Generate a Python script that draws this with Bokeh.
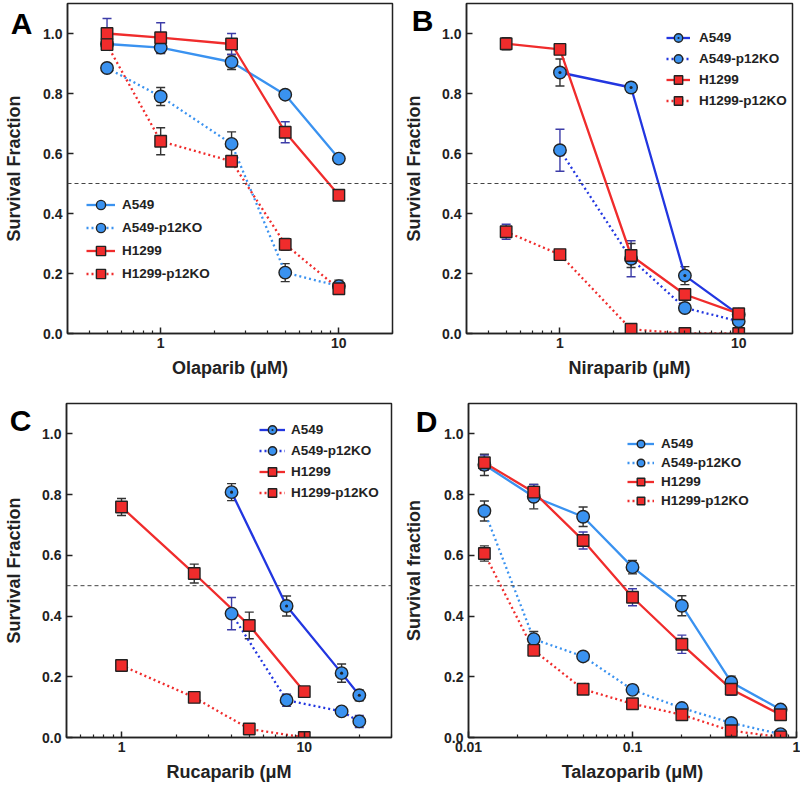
from bokeh.plotting import figure
from bokeh.layouts import column, row
from bokeh.models import (ColumnDataSource, Whisker, TeeHead, Span, Legend, LegendItem,
                          FixedTicker, CustomJSTickFormatter, Range1d, LinearAxis)
from bokeh.embed import file_html
from bokeh.resources import INLINE

# ---------------- data ----------------
# Panel A - Olaparib
A_dose = [0.5, 1, 2.5, 5, 10]
A_A549 = [0.965, 0.953, 0.905, 0.796, 0.583]
A_A549_err = [0.01, 0.02, 0.025, 0.01, 0.015]
A_A549KO = [0.885, 0.790, 0.632, 0.203, 0.158]
A_A549KO_err = [0.0, 0.03, 0.04, 0.03, 0.02]
A_H1299 = [1.0, 0.986, 0.965, 0.671, 0.461]
A_H1299_err = [0.05, 0.05, 0.035, 0.035, 0.01]
A_H1299KO = [0.963, 0.641, 0.574, 0.297, 0.149]
A_H1299KO_err = [0.01, 0.045, 0.015, 0.02, 0.015]

# Panel B - Niraparib
B_dose = [0.5, 1, 2.5, 5, 10]
B_dose_A549 = [1, 2.5, 5, 10]
B_A549 = [0.870, 0.820, 0.193, 0.063]
B_A549_err = [0.045, 0.015, 0.03, 0.01]
B_A549KO = [0.611, 0.249, 0.085, 0.041]
B_A549KO_err = [0.07, 0.06, 0.01, 0.01]
B_H1299 = [0.966, 0.947, 0.260, 0.130, 0.066]
B_H1299_err = [0.02, 0.01, 0.04, 0.01, 0.01]
B_H1299KO = [0.339, 0.263, 0.014, 0.0, 0.0]
B_H1299KO_err = [0.025, 0.015, 0.005, 0.0, 0.0]

# Panel C - Rucaparib
C_dose_A549 = [4, 8, 16, 20]
C_A549 = [0.808, 0.433, 0.212, 0.139]
C_A549_err = [0.028, 0.033, 0.03, 0.018]
C_A549KO = [0.408, 0.123, 0.086, 0.053]
C_A549KO_err = [0.053, 0.02, 0.008, 0.02]
C_dose_H1299 = [1, 2.5, 5, 10]
C_H1299 = [0.759, 0.540, 0.369, 0.151]
C_H1299_err = [0.028, 0.031, 0.044, 0.01]
C_H1299KO = [0.237, 0.132, 0.028, 0.0]
C_H1299KO_err = [0.01, 0.01, 0.005, 0.0]

# Panel D - Talazoparib
D_dose = [0.0125, 0.025, 0.05, 0.1, 0.2, 0.4, 0.8]
D_A549 = [0.898, 0.793, 0.727, 0.561, 0.434, 0.182, 0.092]
D_A549_err = [0.035, 0.04, 0.032, 0.022, 0.033, 0.02, 0.008]
D_A549KO = [0.746, 0.324, 0.267, 0.157, 0.097, 0.048, 0.011]
D_A549KO_err = [0.033, 0.025, 0.008, 0.015, 0.008, 0.008, 0.005]
D_H1299 = [0.905, 0.808, 0.649, 0.462, 0.307, 0.159, 0.075]
D_H1299_err = [0.025, 0.025, 0.028, 0.028, 0.03, 0.02, 0.008]
D_H1299KO = [0.606, 0.287, 0.159, 0.111, 0.075, 0.022, 0.002]
D_H1299KO_err = [0.025, 0.01, 0.008, 0.008, 0.008, 0.008, 0.003]

series_names = ["A549", "A549-p12KO", "H1299", "H1299-p12KO"]
y_ticks = [0.0, 0.2, 0.4, 0.6, 0.8, 1.0]

# ---------------- styles ----------------
FONT = "Liberation Sans"
LIGHT = "#3a92f0"
DARK = "#2236e0"
RED = "#f02c2c"
EDGE = "#222222"
ERR_K = "#333333"
ERR_B = "#3c3ca8"
DOT = "2 3"


def minor_log(lo, hi):
    out = []
    dec = 1e-3
    while dec < hi * 10:
        for m in range(2, 10):
            v = m * dec
            if lo <= v <= hi:
                out.append(v)
        dec *= 10
    return out


def style_text_axis(ax):
    ax.axis_label_text_font = FONT
    ax.axis_label_text_font_style = "bold"
    ax.axis_label_text_font_size = "18px"
    ax.axis_label_text_color = "#222222"


def panel(letter, xlabel, ylabel, xr, majors, series, w, h, borders, letter_cfg, leg):
    bl, br, bt, bb = borders
    p = figure(width=w, height=h, x_axis_type="log",
               x_range=Range1d(*xr), y_range=Range1d(0, 1.1),
               output_backend="svg", toolbar_location=None,
               min_border_left=bl, min_border_right=br, min_border_top=bt, min_border_bottom=bb)
    p.grid.visible = False
    p.outline_line_color = EDGE
    p.outline_line_width = 1.5
    p.background_fill_color = "white"
    p.border_fill_color = "white"

    xa = p.xaxis[0]
    xa.ticker = FixedTicker(ticks=majors, minor_ticks=minor_log(xr[0], xr[1]))
    xa.formatter = CustomJSTickFormatter(code="return String(tick);")
    ya = p.yaxis[0]
    ya.ticker = FixedTicker(ticks=y_ticks)
    ya.formatter = CustomJSTickFormatter(code="return tick.toFixed(1);")
    for ax in (xa, ya):
        ax.axis_line_color = EDGE
        ax.axis_line_width = 1.5
        ax.major_tick_line_color = EDGE
        ax.major_tick_line_width = 1.5
        ax.minor_tick_line_color = EDGE
        ax.minor_tick_line_width = 1.2
        ax.major_tick_in = 6
        ax.major_tick_out = 0
        ax.minor_tick_in = 3
        ax.minor_tick_out = 0
        ax.major_label_text_font = FONT
        ax.major_label_text_font_style = "bold"
        ax.major_label_text_font_size = "14px"
        ax.major_label_text_color = "#222222"
        style_text_axis(ax)
    ya.minor_tick_in = 0
    xa.axis_label = xlabel
    ya.axis_label = None
    xa.major_label_standoff = 4
    xa.axis_label_standoff = 7
    ya.major_label_standoff = 5

    # outer left axis carrying the panel letter and the y title
    s_letter, s_title, y_letter = letter_cfg
    la = LinearAxis(ticker=FixedTicker(ticks=[y_letter]),
                    formatter=CustomJSTickFormatter(code="return '%s';" % letter),
                    axis_line_color=None, major_tick_line_color=None,
                    minor_tick_line_color=None, major_tick_in=0, major_tick_out=0,
                    major_label_standoff=s_letter,
                    major_label_text_font=FONT, major_label_text_font_style="bold",
                    major_label_text_font_size="30px", major_label_text_color="black",
                    axis_label=ylabel, axis_label_standoff=s_title)
    style_text_axis(la)
    p.add_layout(la, "left")

    p.add_layout(Span(location=0.5, dimension="width", line_color="#444444",
                      line_width=1, line_dash="4 3"))

    lines, marks = [], []
    for (name, x, y, err, lc, dash, marker, fc, ec) in series:
        lines.append(p.line(x, y, line_color=lc, line_width=2.3, line_dash=dash))
        src = ColumnDataSource(dict(x=x, lo=[a - b for a, b in zip(y, err)],
                                    hi=[a + b for a, b in zip(y, err)]))
        p.add_layout(Whisker(base="x", lower="lo", upper="hi", source=src,
                             line_color=ec, line_width=1.4,
                             upper_head=TeeHead(size=9, line_color=ec, line_width=1.4),
                             lower_head=TeeHead(size=9, line_color=ec, line_width=1.4)))
    for (name, x, y, err, lc, dash, marker, fc, ec) in series:
        sz = 11.5 if marker == "square" else 12.5
        marks.append(p.scatter(x, y, marker=marker, size=sz, fill_color=fc,
                               line_color=EDGE, line_width=1.4))

    loc, gw, gh, standoff = leg
    items = [LegendItem(label=s[0], renderers=[l, m]) for s, l, m in zip(series, lines, marks)]
    legend = Legend(items=items, location=loc, glyph_width=gw, glyph_height=gh,
                    label_height=gh, spacing=0, label_standoff=standoff,
                    padding=0, margin=0, border_line_color=None, background_fill_alpha=0,
                    label_text_font=FONT, label_text_font_style="bold",
                    label_text_font_size="13.5px", label_text_color="#222222")
    p.add_layout(legend)
    return p


def specs(dA, yA, eA, dK, yK, eK, dH, yH, eH, dHK, yHK, eHK, blue, circ, errs):
    return [
        (series_names[0], dA, yA, eA, blue, "solid", circ, LIGHT, errs[0]),
        (series_names[1], dK, yK, eK, blue, DOT, "circle", LIGHT, errs[1]),
        (series_names[2], dH, yH, eH, RED, "solid", "square", RED, errs[2]),
        (series_names[3], dHK, yHK, eHK, RED, DOT, "square", RED, errs[3]),
    ]


sA = specs(A_dose, A_A549, A_A549_err, A_dose, A_A549KO, A_A549KO_err,
           A_dose, A_H1299, A_H1299_err, A_dose, A_H1299KO, A_H1299KO_err,
           LIGHT, "circle", [ERR_K, ERR_K, ERR_B, ERR_K])
sB = specs(B_dose_A549, B_A549, B_A549_err, B_dose_A549, B_A549KO, B_A549KO_err,
           B_dose, B_H1299, B_H1299_err, B_dose, B_H1299KO, B_H1299KO_err,
           DARK, "circle_dot", [ERR_K, ERR_B, ERR_K, ERR_B])
sC = specs(C_dose_A549, C_A549, C_A549_err, C_dose_A549, C_A549KO, C_A549KO_err,
           C_dose_H1299, C_H1299, C_H1299_err, C_dose_H1299, C_H1299KO, C_H1299KO_err,
           DARK, "circle_dot", [ERR_K, ERR_B, ERR_K, ERR_K])
sD = specs(D_dose, D_A549, D_A549_err, D_dose, D_A549KO, D_A549KO_err,
           D_dose, D_H1299, D_H1299_err, D_dose, D_H1299KO, D_H1299KO_err,
           LIGHT, "circle", [ERR_K, ERR_K, ERR_B, ERR_K])

pA = panel("A", "Olaparib (\u03bcM)", "Survival Fraction", (0.3, 20), [1, 10], sA,
           400, 381, (60, 8, 3, 47), (8, -16, 1.033), ((19, 48), 29, 23, 7))
pB = panel("B", "Niraparib (\u03bcM)", "Survival Fraction", (0.3, 20), [1, 10], sB,
           400, 381, (63, 8, 2, 48), (6, -15, 1.045), ((200, 222), 24, 21, 9))
pC = panel("C", "Rucaparib (\u03bcM", "Survival Fraction", (0.5, 30), [1, 10], sC,
           400, 405, (58, 9, 22, 49), (8, -17, 1.045), ((193, 234), 26, 21, 6))
pD = panel("D", "Talazoparib (\u03bcM)", "Survival fraction", (0.01, 1), [0.01, 0.1, 1], sD,
           400, 405, (64, 4, 22, 49), (4, -11, 1.04), ((159, 227), 27, 19, 7))

layout = column(row(pA, pB), row(pC, pD))
open("out.html", "w").write(file_html(layout, INLINE))
